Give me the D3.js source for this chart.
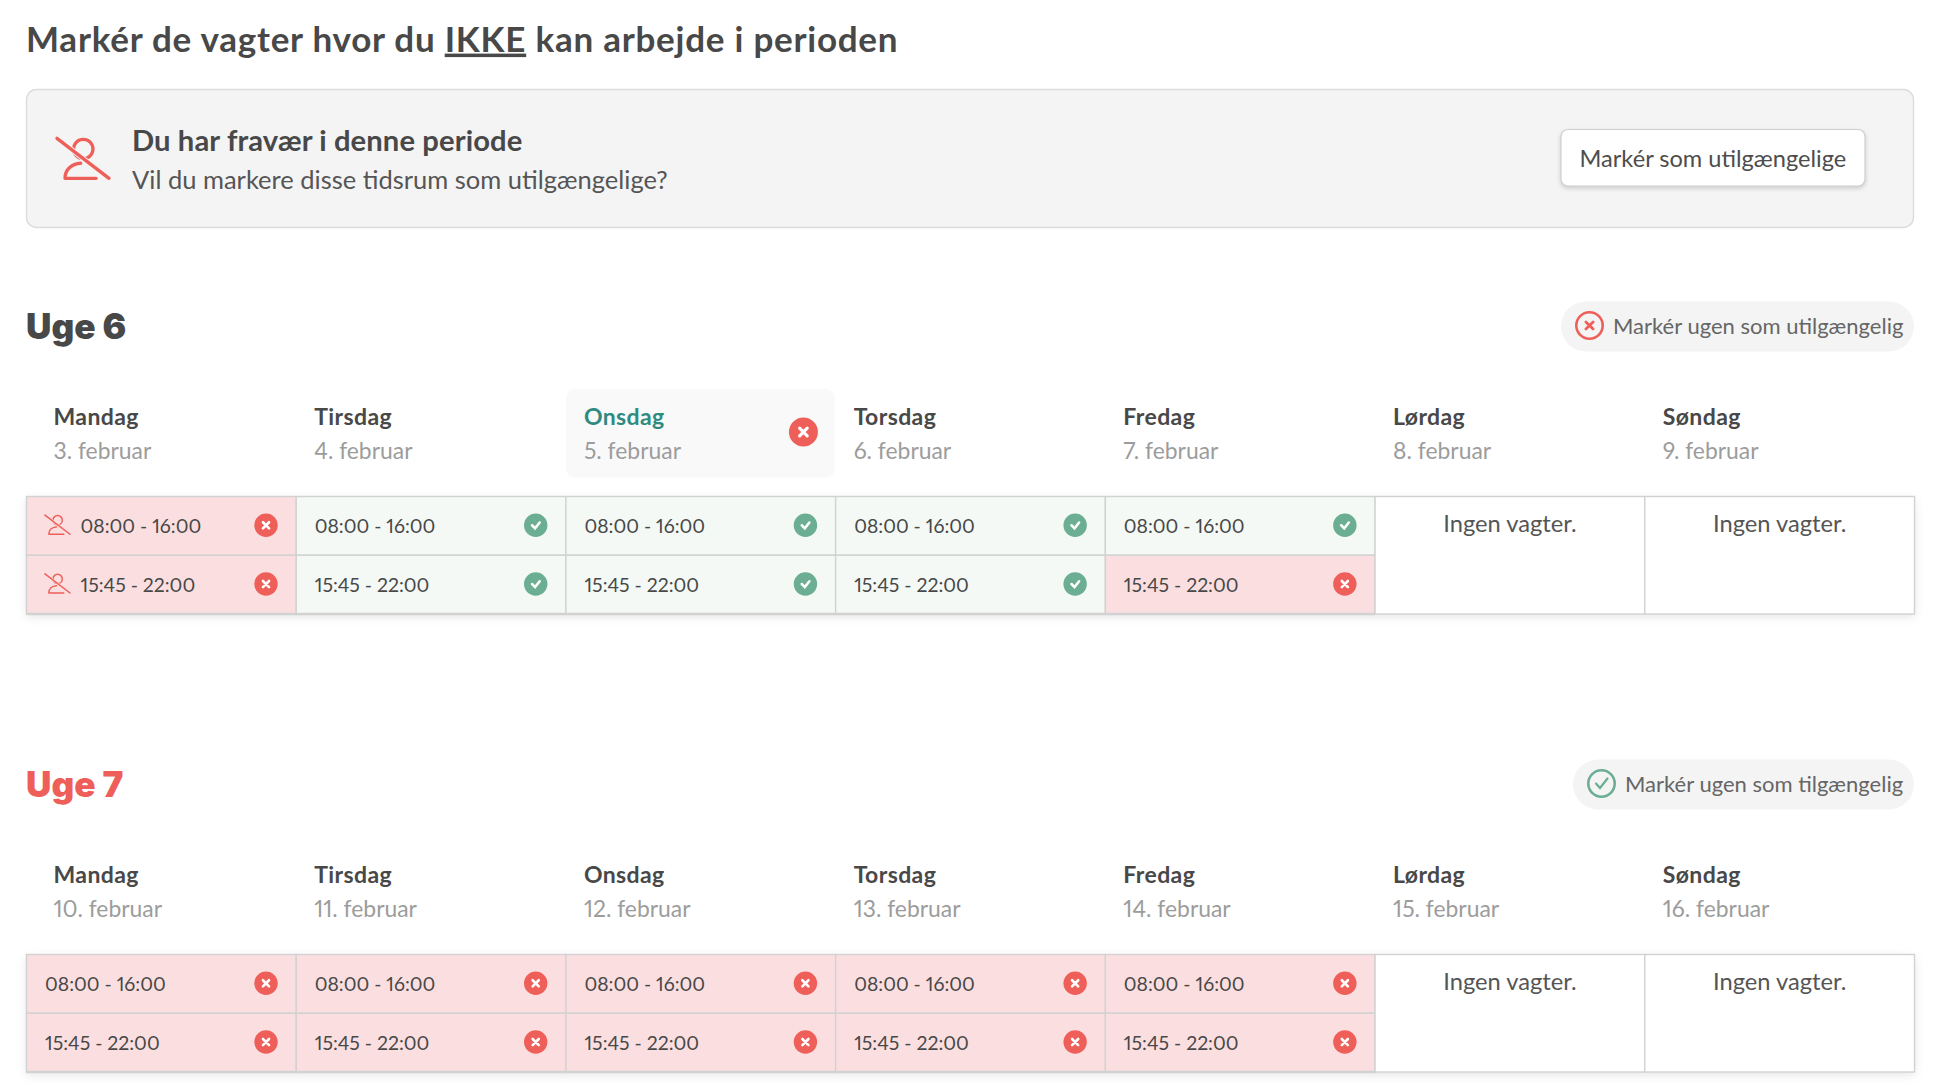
<!DOCTYPE html>
<html>
<head>
<meta charset="utf-8">
<script src="https://cdn.jsdelivr.net/npm/d3@7"></script>
<style>
body{margin:0;background:#fff;}
text{font-family:Lato,"Noto Sans",sans-serif;font-variant-numeric:proportional-nums;}
</style>
</head>
<body>
<div id="chart"></div>
<script>
var dayNames = ["Mandag","Tirsdag","Onsdag","Torsdag","Fredag","Lørdag","Søndag"];
var week6Dates = ["3. februar","4. februar","5. februar","6. februar","7. februar","8. februar","9. februar"];
var week7Dates = ["10. februar","11. februar","12. februar","13. februar","14. februar","15. februar","16. februar"];
var shiftLabels = ["08:00 - 16:00","15:45 - 22:00"];

// one entry per day, one status per shift. a = absence, u = unavailable, k = available
var week6Status = [["a","a"],["k","k"],["k","k"],["k","k"],["k","u"],[],[]];
var week7Status = [["u","u"],["u","u"],["u","u"],["u","u"],["u","u"],[],[]];

var RED = "#ef5f5a", GREEN = "#6bae93", DARK = "#484848", GREY = "#9c9c9c", LINE = "#d2d2d2";
var PALE_RED = "#fbdfe0", PALE_GREEN = "#f4f9f5";

var svg = d3.select("#chart").append("svg")
	.attr("width",1936)
	.attr("height",1092)
	.style("display","block");

var x = d3.scaleBand().domain(d3.range(7)).range([26.5,1914.5]);
var row = d3.scaleBand().domain([0,1]);

function addText(parent,str,px,py,size,weight,color,spacing){
	return parent.append("text")
		.attr("x",px)
		.attr("y",py)
		.attr("font-size",size)
		.attr("font-weight",weight)
		.attr("fill",color)
		.attr("letter-spacing",spacing||0)
		.text(str);
}

function personOff(parent,cx,cy,k,color,width,bg){
	var g = parent.append("g")
		.attr("transform","translate("+cx+","+cy+") scale("+k+")")
		.attr("fill","none")
		.attr("stroke",color)
		.attr("stroke-width",width)
		.attr("stroke-linecap","round")
		.attr("stroke-linejoin","round");
	g.append("circle").attr("cx",1.1).attr("cy",-8.5).attr("r",8.2);
	g.append("path").attr("d","M-1.1 3.6 C-9 4 -14.4 9 -14.4 16.4 L12 16.4");
	// the slash is cut out of the figure with a wider stroke in the background colour
	g.append("path").attr("d","M-21.2 -17.5 L22.9 16.4").attr("stroke",bg).attr("stroke-width",width*1.6);
	g.append("path").attr("d","M-21.2 -17.5 L22.9 16.4");
}

function statusDot(parent,cx,cy,r,kind){
	var g = parent.append("g").attr("transform","translate("+cx+","+cy+")");
	g.append("circle").attr("r",r).attr("fill",kind==="k" ? GREEN : RED);
	var s = r*0.26;
	g.append("path")
		.attr("d",kind==="k"
			? "M"+(-s*1.2)+" 0 L"+(-s*0.2)+" "+s+" L"+(s*1.3)+" "+(-s*0.9)
			: "M"+(-s)+" "+(-s)+" L"+s+" "+s+" M"+s+" "+(-s)+" L"+(-s)+" "+s)
		.attr("fill","none")
		.attr("stroke","#fff")
		.attr("stroke-width",r*0.22)
		.attr("stroke-linecap","round");
}

function ringIcon(parent,cx,cy,kind){
	var color = kind==="k" ? GREEN : RED;
	var g = parent.append("g")
		.attr("transform","translate("+cx+","+cy+")")
		.attr("fill","none")
		.attr("stroke",color)
		.attr("stroke-width",2.6)
		.attr("stroke-linecap","round");
	g.append("circle").attr("r",13.2);
	g.append("path")
		.attr("d",kind==="k" ? "M-5.5 0 L-1.5 4.5 L6 -5" : "M-3.6 -3.6 L3.6 3.6 M3.6 -3.6 L-3.6 3.6")
		.attr("stroke-width",kind==="k" ? 2.2 : 2.8);
}

function drawWeek(opts){
	var g = svg.append("g");
	var top = opts.top, bottom = top+117.5;
	row.range([top,bottom]);

	addText(g,opts.title,26,top-157.3,35.2,900,opts.titleColor)
		.style("font-family","Inter");

	// toggle pill at the right of the week heading
	g.append("rect")
		.attr("x",opts.pillX)
		.attr("y",top-195)
		.attr("width",1914-opts.pillX)
		.attr("height",50)
		.attr("rx",25)
		.attr("fill","#f4f4f4");
	ringIcon(g,opts.pillX+28.5,top-171,opts.pillKind);
	addText(g,opts.pillText,opts.pillX+52,top-163,22,400,"#666");

	// today marker sits behind the day heading
	if(opts.today!==undefined){
		g.append("rect")
			.attr("x",x(opts.today))
			.attr("y",top-107.5)
			.attr("width",x.bandwidth()-1)
			.attr("height",88.5)
			.attr("rx",9)
			.attr("fill","#f9f9f9");
		statusDot(g,x(opts.today)+237.5,top-64.5,14.5,"u");
	}

	dayNames.forEach(function(name,i){
		var hx = x(i)+(i===0 ? 27 : 18);
		addText(g,name,hx,top-71.5,23,700,i===opts.today ? "#2f8a80" : DARK,0.4);
		addText(g,opts.dates[i],hx,top-37.8,22.9,400,GREY);
	});

	// table base carries the shadow
	g.append("rect")
		.attr("x",x(0))
		.attr("y",top)
		.attr("width",x.bandwidth()*7)
		.attr("height",bottom-top)
		.attr("fill","#fff")
		.style("filter","drop-shadow(0 3px 5px rgba(0,0,0,0.10))");

	opts.status.forEach(function(shifts,i){
		shifts.forEach(function(st,j){
			var y0 = row(j);
			g.append("rect")
				.attr("x",x(i))
				.attr("y",y0)
				.attr("width",x.bandwidth())
				.attr("height",row.bandwidth())
				.attr("fill",st==="k" ? PALE_GREEN : PALE_RED)
				.attr("stroke",LINE)
				.attr("stroke-width",1.4);
			var tx = x(i)+18.5;
			if(st==="a"){
				personOff(g,x(i)+30.5,y0+row.bandwidth()/2-0.9,0.567,RED,2.6,PALE_RED);
				tx = x(i)+54;
			}
			addText(g,shiftLabels[j],tx,y0+row.bandwidth()/2+7.5,19.4,400,DARK);
			statusDot(g,x(i)+239.5,y0+row.bandwidth()/2-0.6,11.7,st);
		});
		if(shifts.length===0){
			g.append("rect")
				.attr("x",x(i))
				.attr("y",top)
				.attr("width",x.bandwidth())
				.attr("height",bottom-top)
				.attr("fill","#fff")
				.attr("stroke",LINE)
				.attr("stroke-width",1.4);
			addText(g,"Ingen vagter.",x(i)+x.bandwidth()/2,top+35,23.7,400,"#555")
				.attr("text-anchor","middle");
		}
		else{
			g.append("line")
				.attr("x1",x(i))
				.attr("x2",x(i)+x.bandwidth())
				.attr("y1",bottom)
				.attr("y2",bottom)
				.attr("stroke",LINE)
				.attr("stroke-width",2.4);
		}
	});
}

// page heading
var heading = addText(svg,"Markér de vagter hvor du ",26,51.6,35,700,DARK,0.75);
heading.append("tspan").attr("text-decoration","underline").text("IKKE");
heading.append("tspan").text(" kan arbejde i perioden");

// absence banner
svg.append("rect")
	.attr("x",26.5).attr("y",89.5)
	.attr("width",1887).attr("height",138)
	.attr("rx",10)
	.attr("fill","#f4f4f4")
	.attr("stroke","#dcdcdc")
	.attr("stroke-width",1.4);
personOff(svg,82,159,1.18,RED,2.8,"#f4f4f4");
addText(svg,"Du har fravær i denne periode",132,150.7,29.2,700,DARK,0.1);
addText(svg,"Vil du markere disse tidsrum som utilgængelige?",132,188.6,25.5,400,"#555");
svg.append("rect")
	.attr("x",1561).attr("y",129.5)
	.attr("width",304).attr("height",56.5)
	.attr("rx",7)
	.attr("fill","#fff")
	.attr("stroke","#cfcfcf")
	.attr("stroke-width",1.2)
	.style("filter","drop-shadow(0 2px 2px rgba(0,0,0,0.16))");
addText(svg,"Markér som utilgængelige",1579.5,166.5,23.6,400,"#4d4d4d");

drawWeek({
	top:496.5, title:"Uge 6", titleColor:DARK,
	dates:week6Dates, status:week6Status, today:2,
	pillX:1561, pillKind:"u", pillText:"Markér ugen som utilgængelig"
});
drawWeek({
	top:954.5, title:"Uge 7", titleColor:RED,
	dates:week7Dates, status:week7Status,
	pillX:1573, pillKind:"k", pillText:"Markér ugen som tilgængelig"
});
</script>
</body>
</html>
